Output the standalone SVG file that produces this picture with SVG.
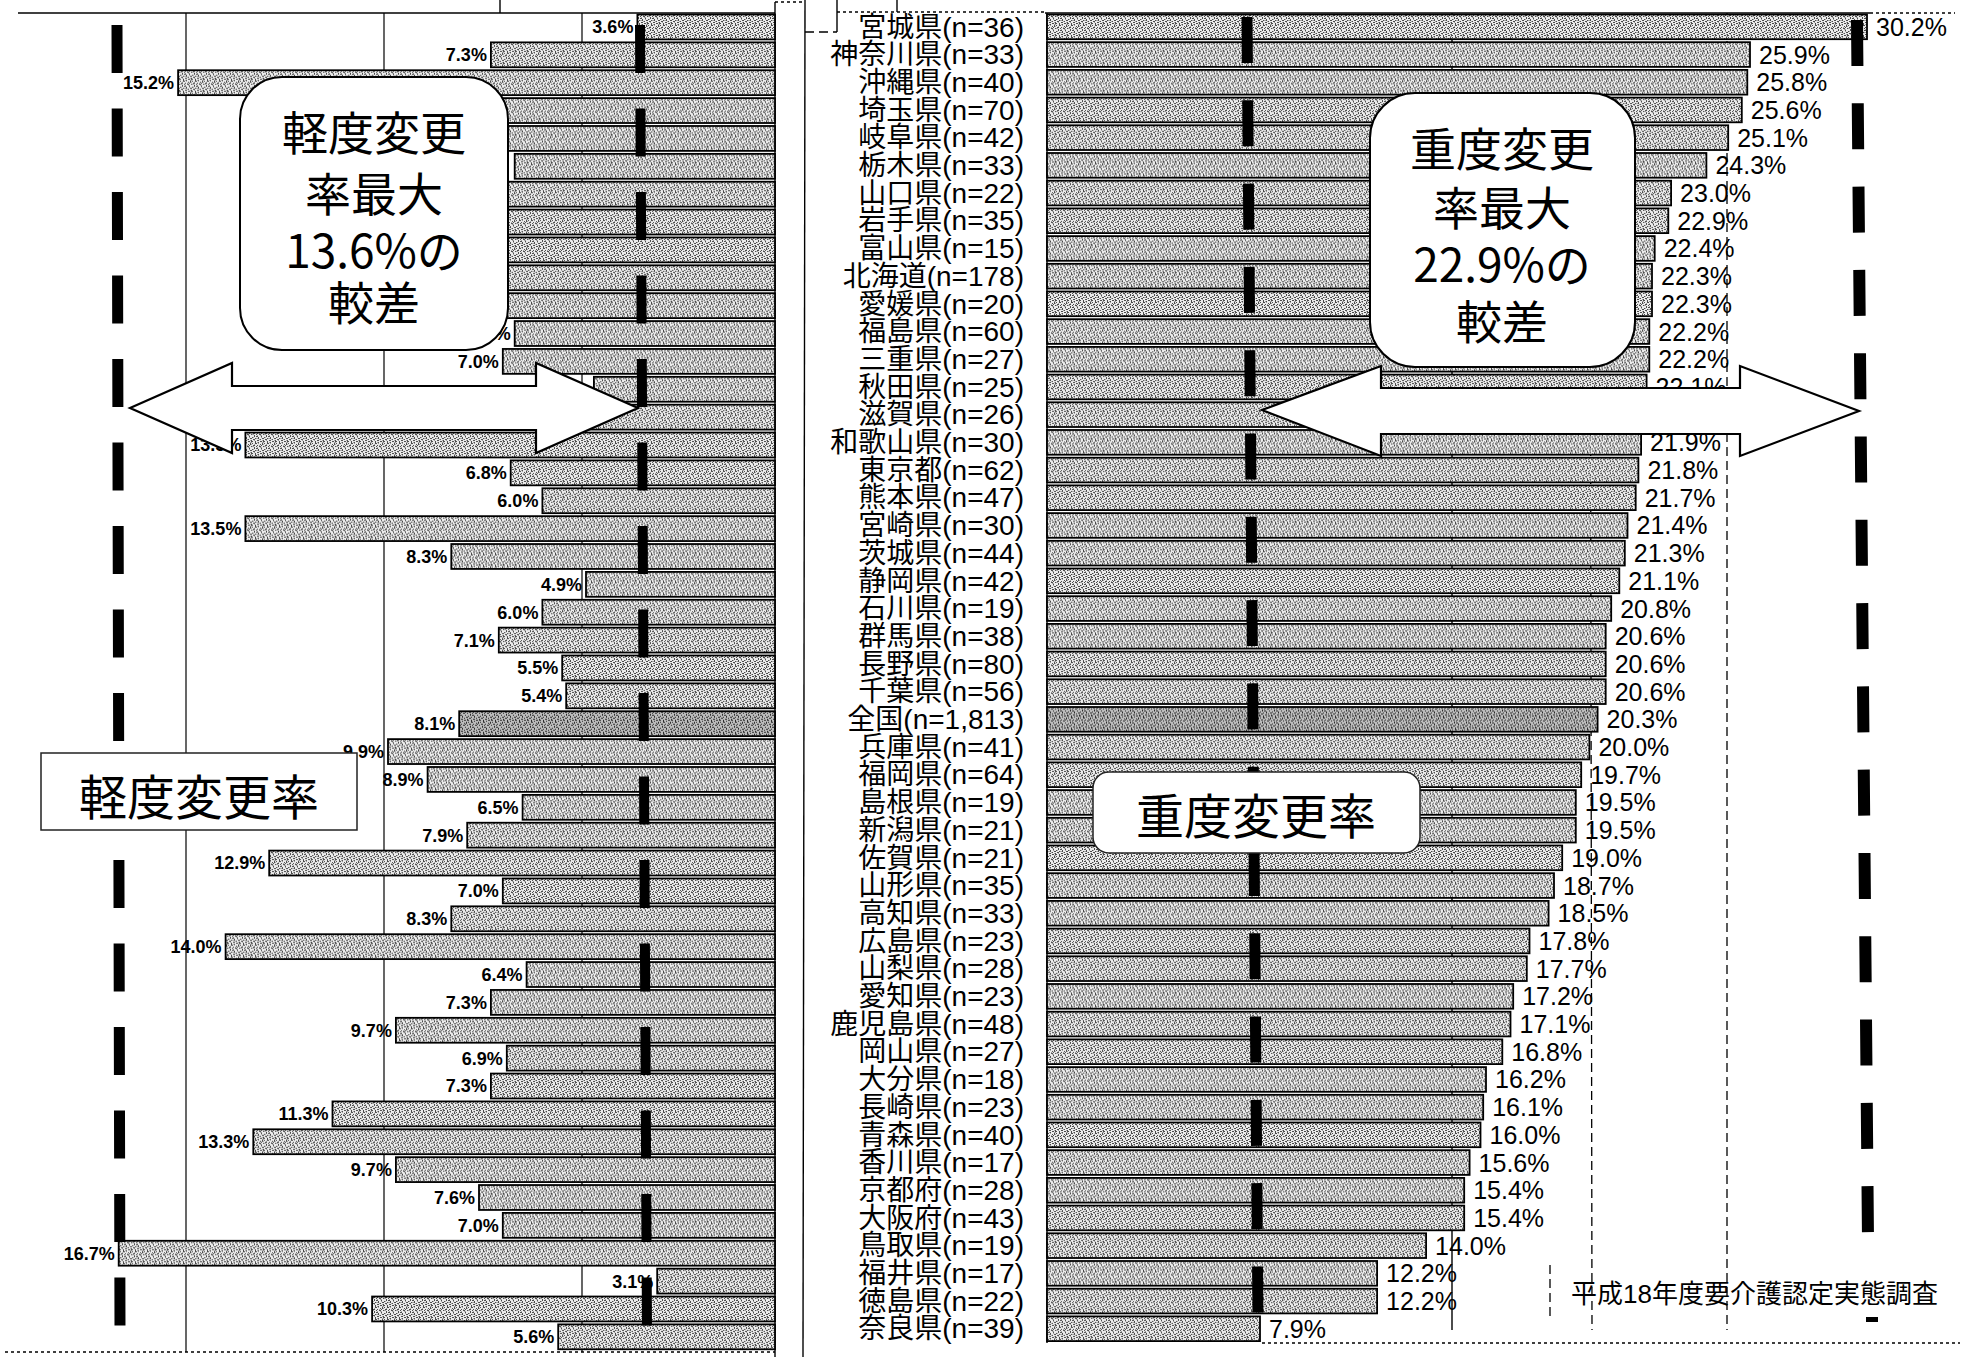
<svg xmlns="http://www.w3.org/2000/svg" width="1969" height="1357" viewBox="0 0 1969 1357">
<defs>
<pattern id="tx" width="12" height="12" patternUnits="userSpaceOnUse">
<rect width="12" height="12" fill="#ececec"/>
<path fill="#4a4a4a" d="M0 0h1v1h-1z M3 0h2v1h-2z M8 1h1v1h-1z M10 0h1v2h-1z M1 2h2v1h-2z M5 2h1v1h-1z M7 3h2v1h-2z M11 3h1v1h-1z M2 4h1v2h-1z M4 5h2v1h-2z M9 5h1v1h-1z M0 6h1v1h-1z M6 6h1v2h-1z M10 7h2v1h-2z M3 7h1v1h-1z M1 8h2v1h-2z M8 8h1v1h-1z M5 9h2v1h-2z M11 9h1v2h-1z M0 10h1v1h-1z M3 10h1v2h-1z M8 10h2v1h-2z M6 11h1v1h-1z M9 2h1v1h-1z M4 3h1v1h-1z"/>
<path fill="#a0a0a0" d="M6 0h1v1h-1z M2 1h1v1h-1z M11 1h1v1h-1z M7 2h1v1h-1z M0 3h2v1h-2z M5 4h1v1h-1z M8 4h2v1h-2z M1 6h1v1h-1z M9 6h1v1h-1z M4 7h2v1h-2z M7 8h1v1h-1z M10 9h1v1h-1z M2 9h1v1h-1z M5 11h1v1h-1z M10 11h2v1h-2z"/>
</pattern>
<pattern id="txd" width="12" height="12" patternUnits="userSpaceOnUse">
<rect width="12" height="12" fill="#bcbcbc"/>
<path fill="#2e2e2e" d="M0 0h1v1h-1z M3 0h2v1h-2z M8 1h1v1h-1z M10 0h1v2h-1z M1 2h2v1h-2z M5 2h1v1h-1z M7 3h2v1h-2z M11 3h1v1h-1z M2 4h1v2h-1z M4 5h2v1h-2z M9 5h1v1h-1z M0 6h1v1h-1z M6 6h1v2h-1z M10 7h2v1h-2z M3 7h1v1h-1z M1 8h2v1h-2z M8 8h1v1h-1z M5 9h2v1h-2z M11 9h1v2h-1z M0 10h1v1h-1z M3 10h1v2h-1z M8 10h2v1h-2z M6 11h1v1h-1z M9 2h1v1h-1z M4 3h1v1h-1z"/>
</pattern>
</defs>
<style>
.b{fill:url(#tx);stroke:#000;stroke-width:1.8}
.bd{fill:url(#txd);stroke:#000;stroke-width:1.8}
.ll{font-family:"Liberation Sans",Arial,sans-serif;font-size:18px;font-weight:bold;text-anchor:end;fill:#000}
.rl{font-family:"Liberation Sans",Arial,sans-serif;font-size:25px;fill:#000}
.cl{font-family:"Liberation Sans","Noto Sans CJK JP",sans-serif;font-size:28px;text-anchor:end;fill:#000}
.co{font-family:"Noto Sans CJK JP",sans-serif;font-size:46px;text-anchor:middle;fill:#000}
.lb{font-family:"Noto Sans CJK JP",sans-serif;font-size:48px;text-anchor:middle;fill:#000}
.src{font-family:"Liberation Sans","Noto Sans CJK JP",sans-serif;font-size:26px;fill:#000}
.grid{stroke:#000;stroke-width:1.2;fill:none}
.thin{stroke:#000;stroke-width:1.4;fill:none}
.dot{stroke:#000;stroke-width:1.3;stroke-dasharray:3 3;fill:none}
.dsh{stroke:#000;stroke-width:1.3;stroke-dasharray:9 5;fill:none}
.mk{stroke:#000;fill:none}
.box{fill:#fff;stroke:#000;stroke-width:2}
.arr{fill:#fff;stroke:#000;stroke-width:2.2;stroke-linejoin:miter}
</style>
<rect width="1969" height="1357" fill="#fff"/>

<g id="frame">
<line class="grid" x1="186" y1="13" x2="186" y2="1352"/>
<line class="grid" x1="384" y1="13" x2="384" y2="1352"/>
<line class="grid" x1="582" y1="13" x2="582" y2="1352"/>
<line class="thin" x1="18" y1="13" x2="775" y2="13" stroke-width="2.2"/>
<line class="thin" x1="775" y1="2" x2="775" y2="1357" stroke-width="1.8"/>
<line class="thin" x1="805" y1="0" x2="803" y2="1357"/>
<line class="dot" x1="775" y1="2" x2="805" y2="2"/>
<line class="thin" x1="837" y1="0" x2="837" y2="32"/>
<line class="dsh" x1="805" y1="32" x2="837" y2="32"/>
<line class="dot" x1="837" y1="12" x2="1045" y2="12"/>
<line class="thin" x1="897" y1="0" x2="897" y2="12"/>
<line class="thin" x1="500" y1="0" x2="500" y2="13"/>
<line class="thin" x1="1045" y1="13" x2="1870" y2="13" stroke-width="2"/>
<line class="dot" x1="1870" y1="13" x2="1955" y2="13"/>
<line class="thin" x1="1047" y1="13" x2="1047" y2="1343"/>
<line class="dot" x1="5" y1="1352" x2="775" y2="1352" stroke-width="1.6"/>
<line class="dot" x1="1262" y1="1343" x2="1960" y2="1343" stroke-width="1.6"/>
<line class="dsh" x1="1727" y1="13" x2="1727" y2="1330"/>
<line class="dsh" x1="1590" y1="13" x2="1592" y2="1330"/>
<line class="thin" x1="1452" y1="13" x2="1452" y2="1330"/>
<line class="dsh" x1="1550" y1="1265" x2="1550" y2="1320"/>
</g>

<g id="rows">
<g id="r00"><g transform="translate(0,13)"><rect class="b" x="637.4" y="1.5" width="137.6" height="24.9"/><text class="ll" x="633.4" y="20.4">3.6%</text></g><g transform="translate(0,13)"><text class="cl" x="1024" y="23.5">宮城県(n=36)</text><rect class="b" x="1047" y="1.5" width="820" height="24.7"/><text class="rl" x="1876" y="22.8">30.2%</text></g></g>
<g id="r01"><g transform="translate(0,40.87)"><rect class="b" x="490.9" y="1.5" width="284.1" height="24.9"/><text class="ll" x="486.9" y="20.4">7.3%</text></g><g transform="translate(0,40.7)"><text class="cl" x="1024" y="23.5">神奈川県(n=33)</text><rect class="b" x="1047" y="1.5" width="703" height="24.7"/><text class="rl" x="1759" y="22.8">25.9%</text></g></g>
<g id="r02"><g transform="translate(0,68.74)"><rect class="b" x="178.1" y="1.5" width="596.9" height="24.9"/><text class="ll" x="174.1" y="20.4">15.2%</text></g><g transform="translate(0,68.4)"><text class="cl" x="1024" y="23.5">沖縄県(n=40)</text><rect class="b" x="1047" y="1.5" width="700.3" height="24.7"/><text class="rl" x="1756.3" y="22.8">25.8%</text></g></g>
<g id="r03"><g transform="translate(0,96.61)"><rect class="b" x="364.2" y="1.5" width="410.8" height="24.9"/></g><g transform="translate(0,96.1)"><text class="cl" x="1024" y="23.5">埼玉県(n=70)</text><rect class="b" x="1047" y="1.5" width="694.8" height="24.7"/><text class="rl" x="1750.8" y="22.8">25.6%</text></g></g>
<g id="r04"><g transform="translate(0,124.48)"><rect class="b" x="423.6" y="1.5" width="351.4" height="24.9"/></g><g transform="translate(0,123.8)"><text class="cl" x="1024" y="23.5">岐阜県(n=42)</text><rect class="b" x="1047" y="1.5" width="681.2" height="24.7"/><text class="rl" x="1737.2" y="22.8">25.1%</text></g></g>
<g id="r05"><g transform="translate(0,152.35)"><rect class="b" x="514.7" y="1.5" width="260.3" height="24.9"/></g><g transform="translate(0,151.5)"><text class="cl" x="1024" y="23.5">栃木県(n=33)</text><rect class="b" x="1047" y="1.5" width="659.4" height="24.7"/><text class="rl" x="1715.4" y="22.8">24.3%</text></g></g>
<g id="r06"><g transform="translate(0,180.22)"><rect class="b" x="443.4" y="1.5" width="331.6" height="24.9"/></g><g transform="translate(0,179.2)"><text class="cl" x="1024" y="23.5">山口県(n=22)</text><rect class="b" x="1047" y="1.5" width="624.1" height="24.7"/><text class="rl" x="1680.1" y="22.8">23.0%</text></g></g>
<g id="r07"><g transform="translate(0,208.09)"><rect class="b" x="463.2" y="1.5" width="311.8" height="24.9"/></g><g transform="translate(0,206.9)"><text class="cl" x="1024" y="23.5">岩手県(n=35)</text><rect class="b" x="1047" y="1.5" width="621.3" height="24.7"/><text class="rl" x="1677.3" y="22.8">22.9%</text></g></g>
<g id="r08"><g transform="translate(0,235.96)"><rect class="b" x="431.5" y="1.5" width="343.5" height="24.9"/></g><g transform="translate(0,234.6)"><text class="cl" x="1024" y="23.5">富山県(n=15)</text><rect class="b" x="1047" y="1.5" width="607.7" height="24.7"/><text class="rl" x="1663.7" y="22.8">22.4%</text></g></g>
<g id="r09"><g transform="translate(0,263.83)"><rect class="b" x="403.8" y="1.5" width="371.2" height="24.9"/></g><g transform="translate(0,262.3)"><text class="cl" x="1024" y="23.5">北海道(n=178)</text><rect class="b" x="1047" y="1.5" width="605" height="24.7"/><text class="rl" x="1661" y="22.8">22.3%</text></g></g>
<g id="r10"><g transform="translate(0,291.7)"><rect class="b" x="455.3" y="1.5" width="319.7" height="24.9"/></g><g transform="translate(0,290)"><text class="cl" x="1024" y="23.5">愛媛県(n=20)</text><rect class="b" x="1047" y="1.5" width="605" height="24.7"/><text class="rl" x="1661" y="22.8">22.3%</text></g></g>
<g id="r11"><g transform="translate(0,319.57)"><rect class="b" x="514.7" y="1.5" width="260.3" height="24.9"/><text class="ll" x="510.7" y="20.4">6.7%</text></g><g transform="translate(0,317.7)"><text class="cl" x="1024" y="23.5">福島県(n=60)</text><rect class="b" x="1047" y="1.5" width="602.3" height="24.7"/><text class="rl" x="1658.3" y="22.8">22.2%</text></g></g>
<g id="r12"><g transform="translate(0,347.44)"><rect class="b" x="502.8" y="1.5" width="272.2" height="24.9"/><text class="ll" x="498.8" y="20.4">7.0%</text></g><g transform="translate(0,345.4)"><text class="cl" x="1024" y="23.5">三重県(n=27)</text><rect class="b" x="1047" y="1.5" width="602.3" height="24.7"/><text class="rl" x="1658.3" y="22.8">22.2%</text></g></g>
<g id="r13"><g transform="translate(0,375.31)"><rect class="b" x="593.9" y="1.5" width="181.1" height="24.9"/></g><g transform="translate(0,373.1)"><text class="cl" x="1024" y="23.5">秋田県(n=25)</text><rect class="b" x="1047" y="1.5" width="599.6" height="24.7"/><text class="rl" x="1655.6" y="22.8">22.1%</text></g></g>
<g id="r14"><g transform="translate(0,403.18)"><rect class="b" x="582" y="1.5" width="193" height="24.9"/></g><g transform="translate(0,400.8)"><text class="cl" x="1024" y="23.5">滋賀県(n=26)</text><rect class="b" x="1047" y="1.5" width="596.8" height="24.7"/></g></g>
<g id="r15"><g transform="translate(0,431.05)"><rect class="b" x="245.4" y="1.5" width="529.6" height="24.9"/><text class="ll" x="241.4" y="20.4">13.5%</text></g><g transform="translate(0,428.5)"><text class="cl" x="1024" y="23.5">和歌山県(n=30)</text><rect class="b" x="1047" y="1.5" width="594.1" height="24.7"/><text class="rl" x="1650.1" y="22.8">21.9%</text></g></g>
<g id="r16"><g transform="translate(0,458.92)"><rect class="b" x="510.7" y="1.5" width="264.3" height="24.9"/><text class="ll" x="506.7" y="20.4">6.8%</text></g><g transform="translate(0,456.2)"><text class="cl" x="1024" y="23.5">東京都(n=62)</text><rect class="b" x="1047" y="1.5" width="591.4" height="24.7"/><text class="rl" x="1647.4" y="22.8">21.8%</text></g></g>
<g id="r17"><g transform="translate(0,486.79)"><rect class="b" x="542.4" y="1.5" width="232.6" height="24.9"/><text class="ll" x="538.4" y="20.4">6.0%</text></g><g transform="translate(0,483.9)"><text class="cl" x="1024" y="23.5">熊本県(n=47)</text><rect class="b" x="1047" y="1.5" width="588.7" height="24.7"/><text class="rl" x="1644.7" y="22.8">21.7%</text></g></g>
<g id="r18"><g transform="translate(0,514.66)"><rect class="b" x="245.4" y="1.5" width="529.6" height="24.9"/><text class="ll" x="241.4" y="20.4">13.5%</text></g><g transform="translate(0,511.6)"><text class="cl" x="1024" y="23.5">宮崎県(n=30)</text><rect class="b" x="1047" y="1.5" width="580.5" height="24.7"/><text class="rl" x="1636.5" y="22.8">21.4%</text></g></g>
<g id="r19"><g transform="translate(0,542.53)"><rect class="b" x="451.3" y="1.5" width="323.7" height="24.9"/><text class="ll" x="447.3" y="20.4">8.3%</text></g><g transform="translate(0,539.3)"><text class="cl" x="1024" y="23.5">茨城県(n=44)</text><rect class="b" x="1047" y="1.5" width="577.8" height="24.7"/><text class="rl" x="1633.8" y="22.8">21.3%</text></g></g>
<g id="r20"><g transform="translate(0,570.4)"><rect class="b" x="586" y="1.5" width="189" height="24.9"/><text class="ll" x="582" y="20.4">4.9%</text></g><g transform="translate(0,567)"><text class="cl" x="1024" y="23.5">静岡県(n=42)</text><rect class="b" x="1047" y="1.5" width="572.3" height="24.7"/><text class="rl" x="1628.3" y="22.8">21.1%</text></g></g>
<g id="r21"><g transform="translate(0,598.27)"><rect class="b" x="542.4" y="1.5" width="232.6" height="24.9"/><text class="ll" x="538.4" y="20.4">6.0%</text></g><g transform="translate(0,594.7)"><text class="cl" x="1024" y="23.5">石川県(n=19)</text><rect class="b" x="1047" y="1.5" width="564.2" height="24.7"/><text class="rl" x="1620.2" y="22.8">20.8%</text></g></g>
<g id="r22"><g transform="translate(0,626.14)"><rect class="b" x="498.8" y="1.5" width="276.2" height="24.9"/><text class="ll" x="494.8" y="20.4">7.1%</text></g><g transform="translate(0,622.4)"><text class="cl" x="1024" y="23.5">群馬県(n=38)</text><rect class="b" x="1047" y="1.5" width="558.7" height="24.7"/><text class="rl" x="1614.7" y="22.8">20.6%</text></g></g>
<g id="r23"><g transform="translate(0,654.01)"><rect class="b" x="562.2" y="1.5" width="212.8" height="24.9"/><text class="ll" x="558.2" y="20.4">5.5%</text></g><g transform="translate(0,650.1)"><text class="cl" x="1024" y="23.5">長野県(n=80)</text><rect class="b" x="1047" y="1.5" width="558.7" height="24.7"/><text class="rl" x="1614.7" y="22.8">20.6%</text></g></g>
<g id="r24"><g transform="translate(0,681.88)"><rect class="b" x="566.2" y="1.5" width="208.8" height="24.9"/><text class="ll" x="562.2" y="20.4">5.4%</text></g><g transform="translate(0,677.8)"><text class="cl" x="1024" y="23.5">千葉県(n=56)</text><rect class="b" x="1047" y="1.5" width="558.7" height="24.7"/><text class="rl" x="1614.7" y="22.8">20.6%</text></g></g>
<g id="r25"><g transform="translate(0,709.75)"><rect class="bd" x="459.2" y="1.5" width="315.8" height="24.9"/><text class="ll" x="455.2" y="20.4">8.1%</text></g><g transform="translate(0,705.5)"><text class="cl" x="1024" y="23.5">全国(n=1,813)</text><rect class="bd" x="1047" y="1.5" width="550.6" height="24.7"/><text class="rl" x="1606.6" y="22.8">20.3%</text></g></g>
<g id="r26"><g transform="translate(0,737.62)"><rect class="b" x="388" y="1.5" width="387" height="24.9"/><text class="ll" x="384" y="20.4">9.9%</text></g><g transform="translate(0,733.2)"><text class="cl" x="1024" y="23.5">兵庫県(n=41)</text><rect class="b" x="1047" y="1.5" width="542.4" height="24.7"/><text class="rl" x="1598.4" y="22.8">20.0%</text></g></g>
<g id="r27"><g transform="translate(0,765.49)"><rect class="b" x="427.6" y="1.5" width="347.4" height="24.9"/><text class="ll" x="423.6" y="20.4">8.9%</text></g><g transform="translate(0,760.9)"><text class="cl" x="1024" y="23.5">福岡県(n=64)</text><rect class="b" x="1047" y="1.5" width="534.2" height="24.7"/><text class="rl" x="1590.2" y="22.8">19.7%</text></g></g>
<g id="r28"><g transform="translate(0,793.36)"><rect class="b" x="522.6" y="1.5" width="252.4" height="24.9"/><text class="ll" x="518.6" y="20.4">6.5%</text></g><g transform="translate(0,788.6)"><text class="cl" x="1024" y="23.5">島根県(n=19)</text><rect class="b" x="1047" y="1.5" width="528.8" height="24.7"/><text class="rl" x="1584.8" y="22.8">19.5%</text></g></g>
<g id="r29"><g transform="translate(0,821.23)"><rect class="b" x="467.2" y="1.5" width="307.8" height="24.9"/><text class="ll" x="463.2" y="20.4">7.9%</text></g><g transform="translate(0,816.3)"><text class="cl" x="1024" y="23.5">新潟県(n=21)</text><rect class="b" x="1047" y="1.5" width="528.8" height="24.7"/><text class="rl" x="1584.8" y="22.8">19.5%</text></g></g>
<g id="r30"><g transform="translate(0,849.1)"><rect class="b" x="269.2" y="1.5" width="505.8" height="24.9"/><text class="ll" x="265.2" y="20.4">12.9%</text></g><g transform="translate(0,844)"><text class="cl" x="1024" y="23.5">佐賀県(n=21)</text><rect class="b" x="1047" y="1.5" width="515.2" height="24.7"/><text class="rl" x="1571.2" y="22.8">19.0%</text></g></g>
<g id="r31"><g transform="translate(0,876.97)"><rect class="b" x="502.8" y="1.5" width="272.2" height="24.9"/><text class="ll" x="498.8" y="20.4">7.0%</text></g><g transform="translate(0,871.7)"><text class="cl" x="1024" y="23.5">山形県(n=35)</text><rect class="b" x="1047" y="1.5" width="507" height="24.7"/><text class="rl" x="1563" y="22.8">18.7%</text></g></g>
<g id="r32"><g transform="translate(0,904.84)"><rect class="b" x="451.3" y="1.5" width="323.7" height="24.9"/><text class="ll" x="447.3" y="20.4">8.3%</text></g><g transform="translate(0,899.4)"><text class="cl" x="1024" y="23.5">高知県(n=33)</text><rect class="b" x="1047" y="1.5" width="501.6" height="24.7"/><text class="rl" x="1557.6" y="22.8">18.5%</text></g></g>
<g id="r33"><g transform="translate(0,932.71)"><rect class="b" x="225.6" y="1.5" width="549.4" height="24.9"/><text class="ll" x="221.6" y="20.4">14.0%</text></g><g transform="translate(0,927.1)"><text class="cl" x="1024" y="23.5">広島県(n=23)</text><rect class="b" x="1047" y="1.5" width="482.5" height="24.7"/><text class="rl" x="1538.5" y="22.8">17.8%</text></g></g>
<g id="r34"><g transform="translate(0,960.58)"><rect class="b" x="526.6" y="1.5" width="248.4" height="24.9"/><text class="ll" x="522.6" y="20.4">6.4%</text></g><g transform="translate(0,954.8)"><text class="cl" x="1024" y="23.5">山梨県(n=28)</text><rect class="b" x="1047" y="1.5" width="479.8" height="24.7"/><text class="rl" x="1535.8" y="22.8">17.7%</text></g></g>
<g id="r35"><g transform="translate(0,988.45)"><rect class="b" x="490.9" y="1.5" width="284.1" height="24.9"/><text class="ll" x="486.9" y="20.4">7.3%</text></g><g transform="translate(0,982.5)"><text class="cl" x="1024" y="23.5">愛知県(n=23)</text><rect class="b" x="1047" y="1.5" width="466.2" height="24.7"/><text class="rl" x="1522.2" y="22.8">17.2%</text></g></g>
<g id="r36"><g transform="translate(0,1016.32)"><rect class="b" x="395.9" y="1.5" width="379.1" height="24.9"/><text class="ll" x="391.9" y="20.4">9.7%</text></g><g transform="translate(0,1010.2)"><text class="cl" x="1024" y="23.5">鹿児島県(n=48)</text><rect class="b" x="1047" y="1.5" width="463.5" height="24.7"/><text class="rl" x="1519.5" y="22.8">17.1%</text></g></g>
<g id="r37"><g transform="translate(0,1044.19)"><rect class="b" x="506.8" y="1.5" width="268.2" height="24.9"/><text class="ll" x="502.8" y="20.4">6.9%</text></g><g transform="translate(0,1037.9)"><text class="cl" x="1024" y="23.5">岡山県(n=27)</text><rect class="b" x="1047" y="1.5" width="455.3" height="24.7"/><text class="rl" x="1511.3" y="22.8">16.8%</text></g></g>
<g id="r38"><g transform="translate(0,1072.06)"><rect class="b" x="490.9" y="1.5" width="284.1" height="24.9"/><text class="ll" x="486.9" y="20.4">7.3%</text></g><g transform="translate(0,1065.6)"><text class="cl" x="1024" y="23.5">大分県(n=18)</text><rect class="b" x="1047" y="1.5" width="439" height="24.7"/><text class="rl" x="1495" y="22.8">16.2%</text></g></g>
<g id="r39"><g transform="translate(0,1099.93)"><rect class="b" x="332.5" y="1.5" width="442.5" height="24.9"/><text class="ll" x="328.5" y="20.4">11.3%</text></g><g transform="translate(0,1093.3)"><text class="cl" x="1024" y="23.5">長崎県(n=23)</text><rect class="b" x="1047" y="1.5" width="436.2" height="24.7"/><text class="rl" x="1492.2" y="22.8">16.1%</text></g></g>
<g id="r40"><g transform="translate(0,1127.8)"><rect class="b" x="253.3" y="1.5" width="521.7" height="24.9"/><text class="ll" x="249.3" y="20.4">13.3%</text></g><g transform="translate(0,1121)"><text class="cl" x="1024" y="23.5">青森県(n=40)</text><rect class="b" x="1047" y="1.5" width="433.5" height="24.7"/><text class="rl" x="1489.5" y="22.8">16.0%</text></g></g>
<g id="r41"><g transform="translate(0,1155.67)"><rect class="b" x="395.9" y="1.5" width="379.1" height="24.9"/><text class="ll" x="391.9" y="20.4">9.7%</text></g><g transform="translate(0,1148.7)"><text class="cl" x="1024" y="23.5">香川県(n=17)</text><rect class="b" x="1047" y="1.5" width="422.6" height="24.7"/><text class="rl" x="1478.6" y="22.8">15.6%</text></g></g>
<g id="r42"><g transform="translate(0,1183.54)"><rect class="b" x="479" y="1.5" width="296" height="24.9"/><text class="ll" x="475" y="20.4">7.6%</text></g><g transform="translate(0,1176.4)"><text class="cl" x="1024" y="23.5">京都府(n=28)</text><rect class="b" x="1047" y="1.5" width="417.2" height="24.7"/><text class="rl" x="1473.2" y="22.8">15.4%</text></g></g>
<g id="r43"><g transform="translate(0,1211.41)"><rect class="b" x="502.8" y="1.5" width="272.2" height="24.9"/><text class="ll" x="498.8" y="20.4">7.0%</text></g><g transform="translate(0,1204.1)"><text class="cl" x="1024" y="23.5">大阪府(n=43)</text><rect class="b" x="1047" y="1.5" width="417.2" height="24.7"/><text class="rl" x="1473.2" y="22.8">15.4%</text></g></g>
<g id="r44"><g transform="translate(0,1239.28)"><rect class="b" x="118.7" y="1.5" width="656.3" height="24.9"/><text class="ll" x="114.7" y="20.4">16.7%</text></g><g transform="translate(0,1231.8)"><text class="cl" x="1024" y="23.5">鳥取県(n=19)</text><rect class="b" x="1047" y="1.5" width="379.1" height="24.7"/><text class="rl" x="1435.1" y="22.8">14.0%</text></g></g>
<g id="r45"><g transform="translate(0,1267.15)"><rect class="b" x="657.2" y="1.5" width="117.8" height="24.9"/><text class="ll" x="653.2" y="20.4">3.1%</text></g><g transform="translate(0,1259.5)"><text class="cl" x="1024" y="23.5">福井県(n=17)</text><rect class="b" x="1047" y="1.5" width="330.1" height="24.7"/><text class="rl" x="1386.1" y="22.8">12.2%</text></g></g>
<g id="r46"><g transform="translate(0,1295.02)"><rect class="b" x="372.1" y="1.5" width="402.9" height="24.9"/><text class="ll" x="368.1" y="20.4">10.3%</text></g><g transform="translate(0,1287.2)"><text class="cl" x="1024" y="23.5">徳島県(n=22)</text><rect class="b" x="1047" y="1.5" width="330.1" height="24.7"/><text class="rl" x="1386.1" y="22.8">12.2%</text></g></g>
<g id="r47"><g transform="translate(0,1322.89)"><rect class="b" x="558.2" y="1.5" width="216.8" height="24.9"/><text class="ll" x="554.2" y="20.4">5.6%</text></g><g transform="translate(0,1314.9)"><text class="cl" x="1024" y="23.5">奈良県(n=39)</text><rect class="b" x="1047" y="1.5" width="213" height="24.7"/><text class="rl" x="1269" y="22.8">7.9%</text></g></g>
</g>

<g id="markers">
<line class="mk" x1="117" y1="25" x2="120" y2="1332" stroke-width="11" stroke-dasharray="48 35.5"/>
<line class="mk" x1="640" y1="25" x2="647" y2="1332" stroke-width="10" stroke-dasharray="48 35.5"/>
<line class="mk" x1="1247" y1="17" x2="1258" y2="1320" stroke-width="11" stroke-dasharray="46 37.3"/>
<line class="mk" x1="1857" y1="20" x2="1868" y2="1240" stroke-width="12" stroke-dasharray="46 37.3"/>
<rect x="1866" y="1317" width="12" height="5" fill="#000"/>
</g>

<g id="callout-light">
<rect class="box" x="240" y="77" width="268" height="273" rx="42"/>
<text class="co" x="374" y="149.5">軽度変更</text>
<text class="co" x="374" y="210.5">率最大</text>
<text class="co" x="374" y="267.5">13.6%の</text>
<text class="co" x="374" y="319.5">較差</text>
</g>

<g id="callout-heavy">
<rect class="box" x="1370" y="93" width="265" height="274" rx="45"/>
<text class="co" x="1502" y="165.5">重度変更</text>
<text class="co" x="1502" y="224.5">率最大</text>
<text class="co" x="1502" y="281.5">22.9%の</text>
<text class="co" x="1502" y="338.5">較差</text>
</g>

<g id="connectors">
<polygon class="arr" points="130,408 232,363 232,386 536,386 536,363 638,408 536,453 536,430 232,430 232,453"/>
<polygon class="arr" points="1262,410 1381,366 1381,388 1740,388 1740,366 1859,411 1740,456 1740,434 1381,434 1381,456"/>
</g>

<g id="label-light">
<rect x="41" y="753" width="316" height="77" fill="#fff" stroke="#222" stroke-width="1.5"/>
<text class="lb" x="199" y="815">軽度変更率</text>
</g>

<g id="label-heavy">
<rect x="1093" y="772" width="327" height="81" rx="16" fill="#fff" stroke="#222" stroke-width="1.5"/>
<text class="lb" x="1256" y="834">重度変更率</text>
</g>

<g id="source">
<text class="src" x="1571" y="1303">平成18年度要介護認定実態調査</text>
</g>
</svg>
